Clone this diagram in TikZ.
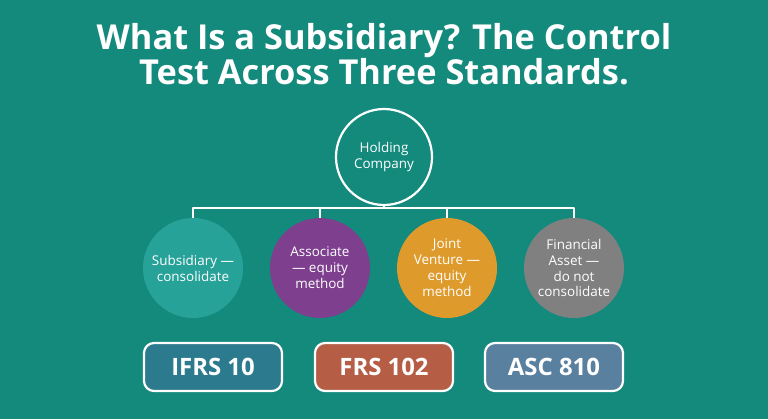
\documentclass[tikz,border=0pt]{standalone}
\usepackage{fontspec}
\setmainfont{Open Sans}
\usetikzlibrary{positioning}
\definecolor{bgteal}{HTML}{148A7D}
\definecolor{subsc}{HTML}{26A299}
\definecolor{assoc}{HTML}{7D3F8E}
\definecolor{jointv}{HTML}{DF9A2C}
\definecolor{finass}{HTML}{808080}
\definecolor{ifrsc}{HTML}{2C7A8D}
\definecolor{frsc}{HTML}{B65D46}
\definecolor{ascc}{HTML}{5A80A0}
\tikzset{
  entity/.style={circle, minimum size=100bp, inner sep=0pt, align=center, text=white, font=\fontsize{13.5}{16}\selectfont},
  stdbox/.style={draw=white, line width=2.2bp, rounded corners=10bp, minimum width=138bp, minimum height=48bp, text=white, font=\fontsize{24}{28}\selectfont\bfseries},
  link/.style={draw=white, line width=2.2bp}
}
\begin{document}
\begin{tikzpicture}[x=1bp, y=1bp, line join=round]
\fill[bgteal] (0,0) rectangle (768,419);
\useasboundingbox (0,0) rectangle (768,419);
\node[text=white, font=\fontsize{34.5}{34}\selectfont\bfseries, align=center] (title) at (384,365)
  {What Is a Subsidiary? The Control\\Test Across Three Standards.};
\node[circle, draw=white, line width=2.2bp, minimum size=96bp, inner sep=0pt, align=center, text=white, font=\fontsize{13.5}{16}\selectfont] (hold) at (384,262) {Holding\\Company};
\node[entity, fill=subsc]  (subs)  at (193,151) {Subsidiary —\\consolidate};
\node[entity, fill=assoc]  (assc)  at (320,151) {Associate\\— equity\\method};
\node[entity, fill=jointv] (joint) at (447,151) {Joint\\Venture —\\equity\\method};
\node[entity, fill=finass] (fin)   at (574,151) {Financial\\Asset —\\do not\\consolidate};
\coordinate (bus) at (384,211);
\draw[link] (hold.south) -- (bus);
\draw[link] (subs.north) |- (bus) -| (fin.north);
\draw[link] (assc.north) -- (assc.north |- bus);
\draw[link] (joint.north) -- (joint.north |- bus);
\node[stdbox, fill=ifrsc] (ifrs) at (213,52) {IFRS 10};
\node[stdbox, fill=frsc]  (frs)  at (384,52) {FRS 102};
\node[stdbox, fill=ascc]  (asc)  at (554,52) {ASC 810};
\end{tikzpicture}
\end{document}
